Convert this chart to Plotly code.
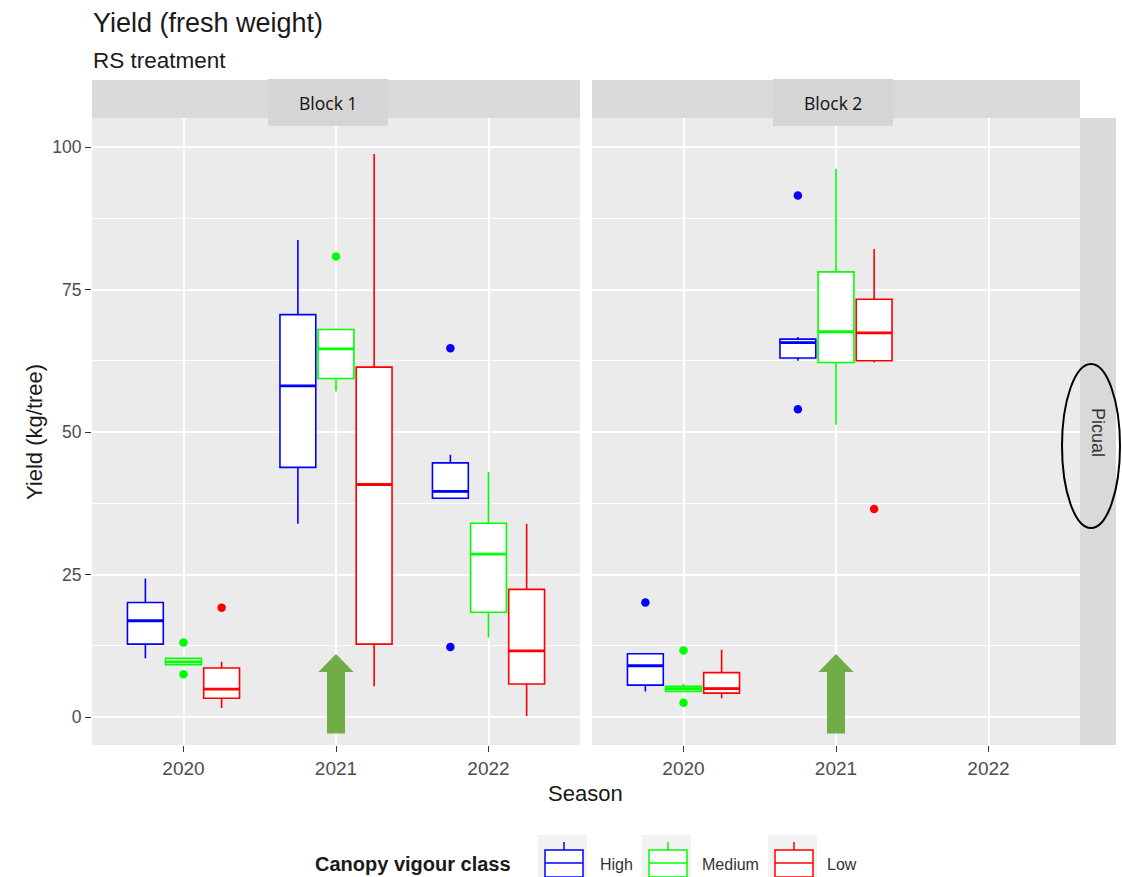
import plotly.graph_objects as go

seasons = ["2020", "2021", "2022"]
classes = ["High", "Medium", "Low"]
class_colors = ["#0000FF", "#00FF00", "#FF0000"]
blocks = ["Block 1", "Block 2"]

# Five-number summaries per season: (lower whisker, Q1, median, Q3, upper whisker)
block1_high = [(10.3, 12.8, 16.9, 20.1, 24.3), (33.9, 43.8, 58.1, 70.6, 83.7), (38.4, 38.4, 39.6, 44.6, 46.0)]
block1_medium = [(9.2, 9.2, 9.7, 10.3, 10.3), (57.1, 59.4, 64.6, 68.0, 68.0), (13.9, 18.4, 28.6, 34.0, 43.0)]
block1_low = [(1.6, 3.3, 4.9, 8.6, 9.7), (5.4, 12.8, 40.8, 61.4, 98.8), (0.2, 5.8, 11.6, 22.4, 33.9)]
block2_high = [(4.5, 5.6, 9.0, 11.1, 11.1), (62.5, 63.0, 65.7, 66.3, 66.7), None]
block2_medium = [(4.5, 4.5, 5.0, 5.4, 5.8), (51.3, 62.2, 67.6, 78.1, 96.2), None]
block2_low = [(3.3, 4.2, 5.0, 7.8, 11.8), (62.2, 62.5, 67.4, 73.3, 82.1), None]

# Outlying trees: (season, yield)
block1_high_out = [("2022", 64.7), ("2022", 12.3)]
block1_medium_out = [("2020", 13.1), ("2020", 7.5), ("2021", 80.8)]
block1_low_out = [("2020", 19.2)]
block2_high_out = [("2020", 20.1), ("2021", 91.5), ("2021", 54.0)]
block2_medium_out = [("2020", 11.7), ("2020", 2.5)]
block2_low_out = [("2021", 36.5)]

summaries = [[block1_high, block1_medium, block1_low],
             [block2_high, block2_medium, block2_low]]
outliers = [[block1_high_out, block1_medium_out, block1_low_out],
            [block2_high_out, block2_medium_out, block2_low_out]]

dodge = [-0.25, 0.0, 0.25]
box_w = 0.235
FONT = "Liberation Sans"

# figure geometry (pixels)
W, H = 1122, 877
ML, MR, MT, MB = 92, 42, 118, 132
PW, PH = W - ML - MR, H - MT - MB


def px(x):
    return (x - ML) / PW


def py(y):
    return (H - MB - y) / PH


fig = go.Figure()

for b in range(2):
    xa = "x" if b == 0 else "x2"
    ya = "y" if b == 0 else "y2"
    for ci, cls in enumerate(classes):
        color = class_colors[ci]
        pos, lo, q1, med, q3, hi = [], [], [], [], [], []
        for si, s in enumerate(summaries[b][ci]):
            if s is None:
                continue
            pos.append(si + 1 + dodge[ci])
            lo.append(s[0]); q1.append(s[1]); med.append(s[2]); q3.append(s[3]); hi.append(s[4])
        fig.add_trace(go.Box(
            x=pos, lowerfence=lo, q1=q1, median=med, q3=q3, upperfence=hi,
            width=box_w, fillcolor="white", whiskerwidth=0,
            line=dict(color=color, width=1.6), boxpoints=False,
            name=cls, showlegend=False, xaxis=xa, yaxis=ya, hoverinfo="skip"))
        # heavier median bar
        mx, my = [], []
        for p, m in zip(pos, med):
            mx += [p - box_w / 2, p + box_w / 2, None]
            my += [m, m, None]
        fig.add_trace(go.Scatter(x=mx, y=my, mode="lines",
                                 line=dict(color=color, width=2.8),
                                 showlegend=False, xaxis=xa, yaxis=ya, hoverinfo="skip"))
        ox = [seasons.index(s) + 1 + dodge[ci] for s, v in outliers[b][ci]]
        oy = [v for s, v in outliers[b][ci]]
        fig.add_trace(go.Scatter(x=ox, y=oy, mode="markers",
                                 marker=dict(color=color, size=8.5),
                                 showlegend=False, xaxis=xa, yaxis=ya, hoverinfo="skip"))

xcommon = dict(range=[0.4, 3.6], tickmode="array", tickvals=[1, 2, 3], ticktext=seasons,
               showgrid=True, gridcolor="white", gridwidth=1.6, zeroline=False,
               ticks="outside", ticklen=6, tickwidth=1.3, tickcolor="#333333",
               tickfont=dict(size=19, color="#4d4d4d", family=FONT), showline=False)
ycommon = dict(range=[-4.9, 105.1], tickmode="array", tickvals=[0, 25, 50, 75, 100],
               showgrid=True, gridcolor="white", gridwidth=1.6, zeroline=False,
               minor=dict(dtick=12.5, tick0=0, showgrid=True, gridcolor="white", gridwidth=0.8),
               showline=False)

fig.update_layout(
    width=W, height=H,
    margin=dict(l=ML, r=MR, t=MT, b=MB),
    paper_bgcolor="white", plot_bgcolor="#ebebeb",
    font=dict(family=FONT, color="#1a1a1a"),
    boxmode="overlay", showlegend=False,
    xaxis=dict(domain=[0, 488 / PW], anchor="y", **xcommon),
    xaxis2=dict(domain=[500 / PW, 1], anchor="y2", **xcommon),
    yaxis=dict(domain=[0, 1], anchor="x", ticks="outside", ticklen=6, tickwidth=1.3,
               tickcolor="#333333", tickfont=dict(size=17.5, color="#4d4d4d", family=FONT),
               **ycommon),
    yaxis2=dict(domain=[0, 1], anchor="x2", matches="y", showticklabels=False, ticks="",
                **ycommon),
)

shapes = []
annotations = []

# facet strips
for x0, x1, label, bx0, bx1 in [(92, 580, "Block 1", 268, 388), (592, 1080, "Block 2", 773, 893)]:
    shapes.append(dict(type="rect", xref="paper", yref="paper", x0=px(x0), x1=px(x1),
                       y0=py(118), y1=py(80), fillcolor="#d9d9d9", line=dict(width=0), layer="below"))
    shapes.append(dict(type="rect", xref="paper", yref="paper", x0=px(bx0), x1=px(bx1),
                       y0=py(126), y1=py(79), fillcolor="#d5d5d5", line=dict(width=0)))
    annotations.append(dict(text=label, xref="paper", yref="paper", x=px((bx0 + bx1) / 2),
                            y=py(103), showarrow=False, xanchor="center", yanchor="middle",
                            font=dict(size=17.5, color="#111111", family="Open Sans")))

# row strip
shapes.append(dict(type="rect", xref="paper", yref="paper", x0=px(1080), x1=px(1116),
                   y0=py(745), y1=py(118), fillcolor="#d9d9d9", line=dict(width=0)))
annotations.append(dict(text="Picual", xref="paper", yref="paper", x=px(1098), y=py(432),
                        textangle=90, showarrow=False, xanchor="center", yanchor="middle",
                        font=dict(size=18, color="#333333", family=FONT)))
shapes.append(dict(type="circle", xref="paper", yref="paper", x0=px(1062), x1=px(1120),
                   y0=py(528), y1=py(364), line=dict(color="black", width=2)))

# arrows marking the 2021 season
for xa, ya in [("x", "y"), ("x2", "y2")]:
    c = 2
    path = (f"M {c - 0.059} -2.9 L {c - 0.059} 7.9 L {c - 0.115} 7.9 L {c} 11.05 "
            f"L {c + 0.115} 7.9 L {c + 0.059} 7.9 L {c + 0.059} -2.9 Z")
    shapes.append(dict(type="path", xref=xa, yref=ya, path=path,
                       fillcolor="#70ad47", line=dict(width=0)))

# titles
annotations.append(dict(text="Yield (fresh weight)", xref="paper", yref="paper", x=px(91),
                        y=py(23), showarrow=False, xanchor="left", yanchor="middle",
                        font=dict(size=27, color="#1a1a1a")))
annotations.append(dict(text="RS treatment", xref="paper", yref="paper", x=px(91),
                        y=py(60), showarrow=False, xanchor="left", yanchor="middle",
                        font=dict(size=22.5, color="#1a1a1a")))
annotations.append(dict(text="Season", xref="paper", yref="paper", x=px(585), y=py(793),
                        showarrow=False, xanchor="center", yanchor="middle",
                        font=dict(size=22, color="#1a1a1a")))
annotations.append(dict(text="Yield (kg/tree)", xref="paper", yref="paper", x=px(34), y=py(432),
                        textangle=-90, showarrow=False, xanchor="center", yanchor="middle",
                        font=dict(size=22, color="#1a1a1a")))

# legend
annotations.append(dict(text="<b>Canopy vigour class</b>", xref="paper", yref="paper",
                        x=px(313), y=py(864), showarrow=False, xanchor="left", yanchor="middle",
                        font=dict(size=20, color="#1a1a1a")))
key_left = [538, 642, 768]
text_left = [598, 700, 825]
for ci, cls in enumerate(classes):
    k = key_left[ci]
    color = class_colors[ci]
    shapes.append(dict(type="rect", xref="paper", yref="paper", x0=px(k), x1=px(k + 49),
                       y0=py(885), y1=py(835), fillcolor="#f2f2f2", line=dict(width=0)))
    shapes.append(dict(type="rect", xref="paper", yref="paper", x0=px(k + 7), x1=px(k + 45),
                       y0=py(877), y1=py(850), fillcolor="white", line=dict(color=color, width=1.5)))
    shapes.append(dict(type="line", xref="paper", yref="paper", x0=px(k + 26), x1=px(k + 26),
                       y0=py(850), y1=py(842), line=dict(color=color, width=1.5)))
    shapes.append(dict(type="line", xref="paper", yref="paper", x0=px(k + 7), x1=px(k + 45),
                       y0=py(863), y1=py(863), line=dict(color=color, width=1.5)))
    annotations.append(dict(text=cls, xref="paper", yref="paper", x=px(text_left[ci]), y=py(864),
                            showarrow=False, xanchor="left", yanchor="middle",
                            font=dict(size=16, color="#333333")))

fig.update_layout(shapes=shapes, annotations=annotations)

fig.write_html("out.html")
